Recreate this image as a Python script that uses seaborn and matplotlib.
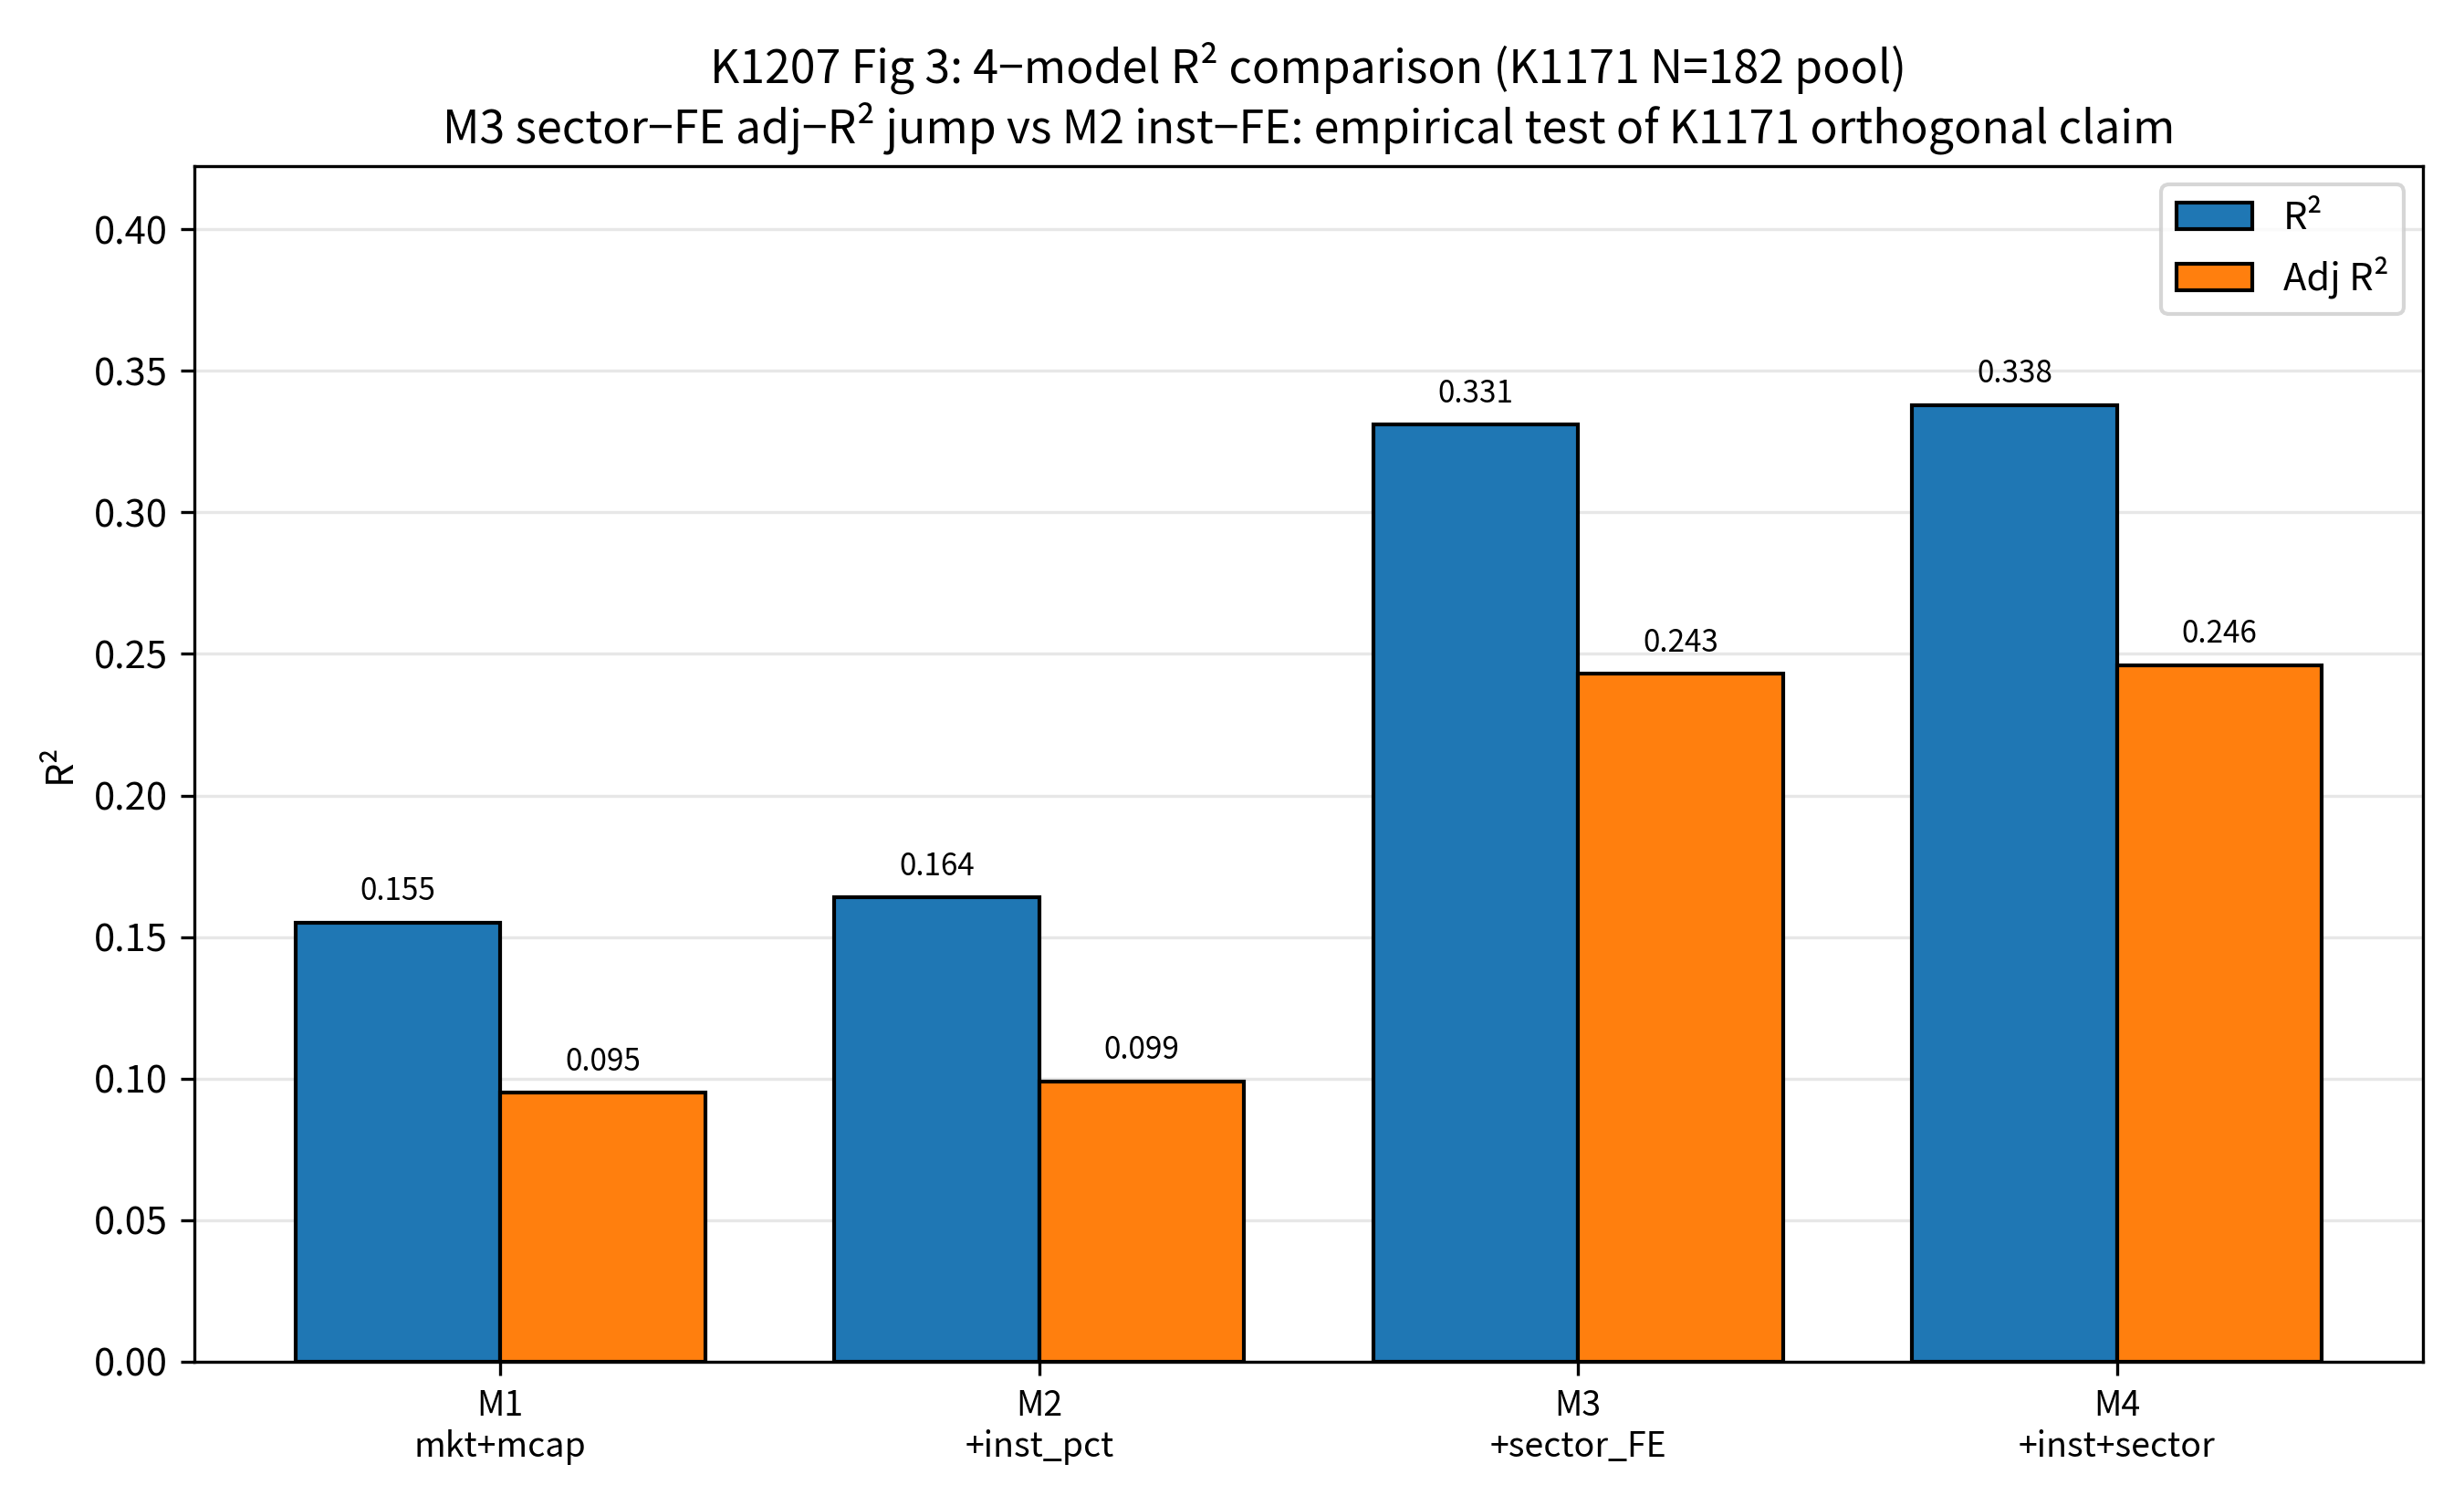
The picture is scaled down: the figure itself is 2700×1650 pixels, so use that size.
import pandas as pd
import matplotlib
matplotlib.use("Agg")
import matplotlib.pyplot as plt
import seaborn as sns

plt.rcParams["font.family"] = ["Noto Sans CJK SC", "DejaVu Sans"]
plt.rcParams["axes.unicode_minus"] = True

# data
models = ["M1\nmkt+mcap", "M2\n+inst_pct", "M3\n+sector_FE", "M4\n+inst+sector"]
r2 = [0.155, 0.164, 0.331, 0.338]
adj_r2 = [0.095, 0.099, 0.243, 0.246]
series = ["R²", "Adj R²"]

df = pd.DataFrame({
    "model": models * 2,
    "metric": [series[0]] * 4 + [series[1]] * 4,
    "value": r2 + adj_r2,
})

fig, ax = plt.subplots(figsize=(9, 5.5), dpi=300)
sns.barplot(
    data=df, x="model", y="value", hue="metric",
    palette=["#1f77b4", "#ff7f0e"], saturation=1,
    width=0.76, edgecolor="black", linewidth=1, ax=ax,
)

for cont in ax.containers:
    ax.bar_label(cont, fmt="%.3f", padding=4, fontsize=8)

ax.set_xlim(-0.568, 3.568)
ax.set_ylim(0, max(r2) * 1.25)
ax.set_xlabel("")
ax.set_ylabel("R²", fontsize=10)
ax.tick_params(axis="x", labelsize=9)
ax.grid(axis="y", alpha=0.3)
ax.set_axisbelow(True)
ax.legend(loc="upper right", fontsize=10)
ax.set_title("K1207 Fig 3: 4−model R² comparison (K1171 N=182 pool)\n"
             "M3 sector−FE adj−R² jump vs M2 inst−FE: empirical test of K1171 orthogonal claim",
             fontsize=12)
plt.tight_layout()
plt.savefig("out.png", dpi=300)
